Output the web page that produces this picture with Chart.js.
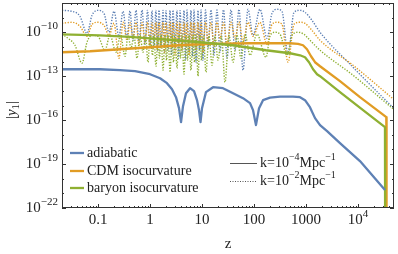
<!DOCTYPE html>
<html>
<head>
<meta charset="UTF-8">
<title>|y1| vs z</title>
<script src="https://cdn.jsdelivr.net/npm/chart.js"></script>
<style>
  body { margin: 0; background: #fff; }
  #wrap { width: 398px; height: 254px; }
</style>
</head>
<body>
<div id="wrap"><canvas id="chart" width="398" height="254"></canvas></div>
<script>
// k = 1e-2 Mpc^-1 (dotted): adiabatic and CDM sampled on the same z values
const zDotted = [0.0203, 0.0316, 0.0451, 0.0614, 0.0767, 0.1, 0.130, 0.163, 0.203, 0.253,
  0.303, 0.361, 0.412, 0.471, 0.538, 0.614, 0.702, 0.801, 0.895, 1.0,
  1.09, 1.19, 1.30, 1.39, 1.49, 1.63, 1.78, 1.90, 2.03, 2.22,
  2.43, 2.59, 2.77, 3.03, 3.30, 3.53, 3.78, 4.12, 4.51, 4.82,
  5.15, 5.62, 6.14, 6.57, 7.02, 7.67, 8.38, 8.96, 9.57, 10.4,
  11.7, 13.0, 14.9, 17.0, 19.4, 22.2, 25.9, 30.3, 36.1, 43.1,
  51.5, 61.4, 76.7, 95.7, 130, 178, 222, 277, 345, 451,
  588, 767, 957, 1300, 1860, 8000, 48000];
const adiabaticK2 = [3.16e-9, 2.70e-9, 1.23e-9, 8.55e-11, 1.44e-9, 3.16e-9, 1.97e-9, 1.00e-10, 2.70e-9, 5.33e-11,
  2.70e-9, 3.90e-11, 2.90e-9, 2.85e-11, 3.16e-9, 2.08e-11, 3.30e-9, 1.52e-11, 3.16e-9, 1.11e-11,
  3.00e-9, 8.11e-12, 3.16e-9, 5.93e-12, 3.30e-9, 9.49e-12, 3.16e-9, 4.33e-12, 3.00e-9, 5.93e-12,
  3.16e-9, 2.70e-12, 3.30e-9, 8.11e-12, 3.16e-9, 1.69e-12, 3.00e-9, 5.93e-12, 3.16e-9, 1.23e-12,
  3.30e-9, 4.33e-12, 3.16e-9, 2.31e-12, 3.30e-9, 9.01e-13, 3.16e-9, 5.93e-12, 3.40e-9, 1.23e-12,
  3.30e-9, 8.11e-12, 3.40e-9, 2.70e-12, 3.30e-9, 4.33e-12, 3.50e-9, 1.69e-12, 3.40e-9, 5.93e-12,
  3.70e-9, 2.57e-13, 3.70e-9, 6.24e-11, 3.70e-9, 3.90e-11, 1.97e-9, 3.70e-9, 2.70e-9, 3.16e-12,
  2.31e-9, 3.16e-9, 2.31e-9, 6.57e-10, 1.00e-10, 4.11e-13, 6.59e-16];
const cdmK2 = [4.10e-10, 4.81e-10, 2.56e-10, 5.33e-11, 3.51e-10, 4.81e-10, 3.00e-10, 6.24e-11, 4.10e-10, 1.69e-12,
  4.81e-10, 2.85e-11, 4.60e-10, 3.90e-11, 4.81e-10, 1.30e-11, 4.60e-10, 2.08e-11, 4.81e-10, 8.11e-12,
  4.60e-10, 2.85e-11, 4.81e-10, 5.93e-12, 4.60e-10, 1.52e-11, 4.81e-10, 4.33e-12, 4.60e-10, 2.08e-11,
  4.81e-10, 8.11e-12, 4.60e-10, 2.70e-12, 4.81e-10, 1.30e-11, 4.60e-10, 5.93e-12, 4.81e-10, 1.52e-11,
  4.60e-10, 2.70e-12, 4.81e-10, 1.11e-11, 4.60e-10, 5.93e-12, 4.81e-10, 1.52e-11, 4.60e-10, 4.33e-12,
  4.81e-10, 2.85e-11, 4.60e-10, 1.11e-11, 4.81e-10, 3.90e-11, 4.60e-10, 1.52e-11, 4.81e-10, 3.90e-11,
  4.81e-10, 2.08e-11, 4.81e-10, 5.33e-11, 4.81e-10, 1.52e-11, 3.51e-10, 4.81e-10, 3.51e-10, 9.01e-13,
  3.51e-10, 4.81e-10, 4.10e-10, 1.37e-10, 2.85e-11, 5.63e-13, 2.71e-15];

// baryon, k = 1e-2 (dotted)
const zBaryonDotted = [0.0203, 0.0265, 0.0361, 0.0492, 0.0614, 0.0767, 0.1, 0.136, 0.170, 0.222,
  0.271, 0.331, 0.378, 0.431, 0.492, 0.562, 0.642, 0.734, 0.819, 0.915,
  1.0, 1.12, 1.19, 1.30, 1.43, 1.52, 1.63, 1.78, 1.94, 2.08,
  2.22, 2.43, 2.65, 2.83, 3.03, 3.30, 3.61, 3.86, 4.12, 4.51,
  4.92, 5.26, 5.62, 6.14, 6.71, 7.17, 7.67, 8.38, 9.15, 9.78,
  10.7, 11.9, 13.6, 15.6, 17.8, 20.3, 23.7, 27.7, 33.0, 39.5,
  47.1, 56.2, 67.1, 83.8, 114, 170, 203, 253, 316, 431,
  538, 702, 915, 1190, 1860, 8000, 48000];
const baryonK2 = [7.31e-11, 3.90e-11, 1.30e-11, 7.70e-13, 2.08e-11, 6.24e-11, 5.33e-11, 5.93e-12, 6.24e-11, 4.33e-12,
  6.24e-11, 2.31e-12, 6.24e-11, 8.11e-12, 6.24e-11, 1.69e-12, 6.24e-11, 4.33e-12, 6.24e-11, 9.01e-13,
  6.24e-11, 2.70e-12, 6.24e-11, 4.81e-13, 6.24e-11, 1.69e-12, 6.24e-11, 2.57e-13, 6.24e-11, 1.23e-12,
  6.24e-11, 1.88e-13, 6.24e-11, 9.01e-13, 6.24e-11, 3.51e-13, 6.24e-11, 1.69e-12, 6.24e-11, 1.37e-13,
  6.24e-11, 1.23e-12, 6.24e-11, 2.57e-13, 6.24e-11, 9.01e-13, 6.24e-11, 1.00e-13, 6.24e-11, 1.23e-12,
  5.33e-11, 1.88e-13, 5.33e-11, 5.63e-13, 5.33e-11, 1.23e-12, 5.33e-11, 3.91e-14, 6.24e-11, 9.01e-13,
  6.24e-11, 1.69e-12, 7.31e-11, 2.70e-12, 7.31e-11, 1.98e-12, 5.33e-11, 1.00e-10, 7.31e-11, 2.70e-12,
  6.24e-11, 1.00e-10, 7.31e-11, 2.85e-11, 5.93e-12, 1.17e-13, 5.60e-16];

// k = 1e-4 Mpc^-1 (solid)
const zAdiabatic = [0.0203, 0.0451, 0.109, 0.265, 0.515, 1.0, 1.56, 2.12, 2.65, 3.16,
  3.61, 3.95, 4.31, 4.92, 5.88, 7.02, 8.01, 8.75, 9.36, 10.0,
  11.9, 16.3, 25.3, 39.5, 61.4, 83.8, 95.7, 109, 125, 149,
  203, 316, 562, 767, 957, 1190, 1490, 1860, 2540, 4500,
  10900, 33000];
const adiabaticK4 = [3.00e-13, 3.00e-13, 3.00e-13, 2.57e-13, 2.20e-13, 1.37e-13, 7.31e-14, 3.34e-14, 1.30e-14, 3.71e-15,
  6.59e-16, 7.33e-17, 9.04e-16, 6.95e-15, 1.52e-14, 9.50e-15, 2.32e-15, 4.82e-16, 7.33e-17, 6.59e-16,
  8.13e-15, 1.78e-14, 1.52e-14, 6.95e-15, 3.17e-15, 1.45e-15, 4.82e-16, 4.58e-17, 6.59e-16, 2.32e-15,
  3.43e-15, 4.01e-15, 4.01e-15, 3.71e-15, 2.32e-15, 7.72e-16, 1.37e-16, 4.58e-17, 1.78e-17, 2.71e-18,
  1.61e-19, 1.70e-21];

const zCdm = [0.0203, 0.0702, 0.265, 1.0, 3.78, 14.3, 83.8, 492, 702, 876,
  1045, 1248, 1490, 1860, 4500, 10900, 35000, 35400];
const cdmK4 = [4.33e-12, 5.07e-12, 6.93e-12, 9.49e-12, 1.30e-11, 1.64e-11, 1.78e-11, 1.78e-11, 1.64e-11, 1.30e-11,
  6.93e-12, 2.31e-12, 9.01e-13, 4.81e-13, 4.57e-14, 3.71e-15, 1.60e-16, 1e-26];

const zBaryon = [0.0203, 0.109, 0.412, 1.0, 3.03, 9.15, 39.5, 170, 492, 767,
  957, 1143, 1366, 1630, 1860, 4500, 12500, 33000, 33300];
const baryonK4 = [7.31e-11, 6.24e-11, 4.93e-11, 3.90e-11, 2.85e-11, 2.08e-11, 1.30e-11, 5.93e-12, 3.70e-12, 2.70e-12,
  1.98e-12, 9.01e-13, 3.00e-13, 1.37e-13, 1.00e-13, 8.13e-15, 4.82e-16, 3.34e-17, 1e-26];

const xTickValues = [0.1, 1, 10, 100, 1000, 10000];
const xTickLabels = [['0.1'], ['1'], ['10'], ['100'], ['1000'], ['10', '4']];
const yTickExps = [-22, -19, -16, -13, -10];

const BLUE = '#5e81b5', ORANGE = '#e19c24', GREEN = '#8fb032';
const SERIF = '"Liberation Serif", "DejaVu Serif", serif';

function pts(xs, ys) {
  return xs.map((x, i) => ({ x: x, y: ys[i] }));
}

function solid(label, xs, ys, color) {
  return { label, data: pts(xs, ys), borderColor: color, borderWidth: 2.3,
    pointRadius: 0, tension: 0, borderJoinStyle: 'round', clip: 0 };
}
function dotted(label, xs, ys, color) {
  return { label, data: pts(xs, ys), borderColor: color, borderWidth: 1.4,
    borderDash: [1.3, 1.5], pointRadius: 0, cubicInterpolationMode: 'monotone', clip: 0 };
}

// rich text: parts = [[text, 'n'|'sup'|'sub'|'it'], ...]
function fontFor(k, size) {
  if (k === 'sup' || k === 'sub') return Math.round(size * 0.7) + 'px ' + SERIF;
  if (k === 'it') return 'italic ' + size + 'px ' + SERIF;
  return size + 'px ' + SERIF;
}
function richWidth(ctx, parts, size) {
  let w = 0;
  for (const [t, k] of parts) {
    ctx.font = fontFor(k, size);
    w += ctx.measureText(t).width;
  }
  return w;
}
function drawRich(ctx, parts, x, y, size, align) {
  const w = richWidth(ctx, parts, size);
  let cx = align === 'right' ? x - w : align === 'center' ? x - w / 2 : x;
  ctx.textAlign = 'left';
  ctx.textBaseline = 'middle';
  for (const [t, k] of parts) {
    ctx.font = fontFor(k, size);
    const dy = k === 'sup' ? -size * 0.38 : k === 'sub' ? size * 0.28 : 0;
    ctx.fillText(t, cx, y + dy);
    cx += ctx.measureText(t).width;
  }
}

const framePlugin = {
  id: 'frame',
  afterDraw(chart) {
    const ctx = chart.ctx;
    const a = chart.chartArea;
    const xs = chart.scales.x, ys = chart.scales.y;
    ctx.save();
    ctx.strokeStyle = '#333';
    ctx.lineWidth = 1;
    ctx.strokeRect(a.left + 0.5, a.top + 0.5, a.right - a.left - 1, a.bottom - a.top - 1);

    // x ticks, inward on bottom and top
    ctx.beginPath();
    for (let e = -2; e <= 4; e++) {
      for (let m = 1; m <= 9; m++) {
        const v = m * Math.pow(10, e);
        if (v < xs.min || v > xs.max) continue;
        const px = Math.round(xs.getPixelForValue(v)) + 0.5;
        const len = m === 1 ? 4 : 2;
        ctx.moveTo(px, a.bottom); ctx.lineTo(px, a.bottom - len);
        ctx.moveTo(px, a.top); ctx.lineTo(px, a.top + len);
      }
    }
    // y ticks, inward on left and right
    for (let e = -22; e <= -8; e++) {
      const py = Math.round(ys.getPixelForValue(Math.pow(10, e))) + 0.5;
      const len = yTickExps.includes(e) ? 4 : 2;
      ctx.moveTo(a.left, py); ctx.lineTo(a.left + len, py);
      ctx.moveTo(a.right, py); ctx.lineTo(a.right - len, py);
    }
    ctx.stroke();

    ctx.fillStyle = '#222';
    // x tick labels
    xTickValues.forEach((v, i) => {
      const lab = xTickLabels[i];
      const parts = lab.length > 1 ? [[lab[0], 'n'], [lab[1], 'sup']] : [[lab[0], 'n']];
      drawRich(ctx, parts, xs.getPixelForValue(v), 220, 15, 'center');
    });
    // y tick labels
    yTickExps.forEach(e => {
      drawRich(ctx, [['10', 'n'], ['\u2212' + Math.abs(e), 'sup']],
        58, ys.getPixelForValue(Math.pow(10, e)), 15, 'right');
    });

    // axis titles
    drawRich(ctx, [['z', 'n']], (a.left + a.right) / 2, 244, 15, 'center');
    ctx.save();
    ctx.translate(12, 110);
    ctx.rotate(-Math.PI / 2);
    drawRich(ctx, [['|', 'n'], ['y', 'it'], ['1', 'sub'], ['|', 'n']], 0, 0, 15, 'center');
    ctx.restore();

    // legends
    const leg = [['adiabatic', BLUE, 153], ['CDM isocurvature', ORANGE, 171], ['baryon isocurvature', GREEN, 188]];
    leg.forEach(([t, c, y]) => {
      ctx.strokeStyle = c; ctx.lineWidth = 2.3; ctx.setLineDash([]);
      ctx.beginPath(); ctx.moveTo(70, y); ctx.lineTo(84, y); ctx.stroke();
      ctx.fillStyle = '#222';
      drawRich(ctx, [[t, 'n']], 87, y, 14, 'left');
    });
    ctx.strokeStyle = '#555'; ctx.lineWidth = 1;
    ctx.beginPath(); ctx.moveTo(230, 163.5); ctx.lineTo(257, 163.5); ctx.stroke();
    ctx.setLineDash([1, 1.5]);
    ctx.beginPath(); ctx.moveTo(230, 181.5); ctx.lineTo(257, 181.5); ctx.stroke();
    ctx.setLineDash([]);
    drawRich(ctx, [['k=10', 'n'], ['\u22124', 'sup'], ['Mpc', 'n'], ['\u22121', 'sup']], 260, 163, 14, 'left');
    drawRich(ctx, [['k=10', 'n'], ['\u22122', 'sup'], ['Mpc', 'n'], ['\u22121', 'sup']], 260, 181, 14, 'left');
    ctx.restore();
  }
};

new Chart(document.getElementById('chart'), {
  type: 'line',
  data: {
    datasets: [
      solid('adiabatic k=1e-4', zAdiabatic, adiabaticK4, BLUE),
      solid('baryon k=1e-4', zBaryon, baryonK4, GREEN),
      solid('CDM k=1e-4', zCdm, cdmK4, ORANGE),
      dotted('baryon k=1e-2', zBaryonDotted, baryonK2, GREEN),
      dotted('CDM k=1e-2', zDotted, cdmK2, ORANGE),
      dotted('adiabatic k=1e-2', zDotted, adiabaticK2, BLUE)
    ]
  },
  options: {
    responsive: false,
    animation: false,
    layout: { padding: { top: 3, right: 4, left: 0, bottom: 0 } },
    plugins: { legend: { display: false }, tooltip: { enabled: false } },
    scales: {
      x: {
        type: 'logarithmic', min: 0.0203, max: 49200,
        ticks: { display: false }, grid: { display: false }, border: { display: false },
        afterFit: s => { s.height = 46; }
      },
      y: {
        type: 'logarithmic', min: 1e-22, max: 1e-8,
        ticks: { display: false }, grid: { display: false }, border: { display: false },
        afterFit: s => { s.width = 62; }
      }
    }
  },
  plugins: [framePlugin]
});
</script>
</body>
</html>
